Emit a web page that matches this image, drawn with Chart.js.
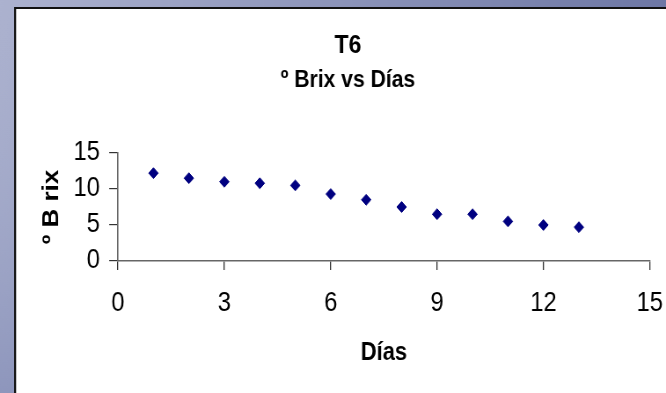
<!DOCTYPE html>
<html>
<head>
<meta charset="utf-8">
<script src="https://cdn.jsdelivr.net/npm/chart.js@4/dist/chart.umd.min.js"></script>
<style>
html,body{margin:0;padding:0;background:#fff;overflow:hidden;}
#wrap{position:relative;width:666px;height:393px;}
#c{display:block;}
</style>
</head>
<body>
<div id="wrap"><canvas id="c" width="757" height="393" style="width:666px;height:393px;"></canvas></div>
<script>
// Data
const dias = [1, 2, 3, 4, 5, 6, 7, 8, 9, 10, 11, 12, 13];
const brix = [12.2, 11.5, 11.0, 10.8, 10.5, 9.3, 8.5, 7.5, 6.5, 6.5, 5.5, 5.0, 4.7];
const xTicks = [0, 3, 6, 9, 12, 15];
const yTicks = [0, 5, 10, 15];
const chartTitle = 'T6';
const chartSubtitle = 'º Brix vs Días';
const xTitle = 'Días';
const yTitle = 'º B rix';

const FONT = "'Liberation Sans', Arial, Helvetica, sans-serif";

const points = dias.map((d, i) => ({x: d, y: brix[i]}));

// The canvas is drawn 757px wide and shown 666px wide (narrow, tall lettering like the original)
const panelPlugin = {
  id: 'panel',
  beforeDraw(chart) {
    const ctx = chart.ctx;
    const W = chart.width, H = chart.height;
    ctx.save();
    const g = ctx.createLinearGradient(0, 0, W, 180);
    g.addColorStop(0, '#acb2cf');
    g.addColorStop(1, '#6a74a3');
    ctx.fillStyle = g;
    ctx.fillRect(0, 0, W, H);
    const g2 = ctx.createLinearGradient(0, 0, 0, H);
    g2.addColorStop(0, 'rgba(172,178,207,0)');
    g2.addColorStop(1, 'rgba(120,130,175,0.5)');
    ctx.fillStyle = g2;
    ctx.fillRect(0, 0, 17, H);
    ctx.fillStyle = '#ffffff';
    ctx.fillRect(17, 8, W - 17, H - 8);
    ctx.fillStyle = '#111111';
    ctx.fillRect(16, 7, W - 16, 2);
    ctx.fillRect(16, 7, 2.3, H - 7);
    ctx.restore();
  }
};

new Chart(document.getElementById('c'), {
  type: 'scatter',
  data: {
    datasets: [{
      data: points,
      pointStyle: 'rectRot',
      pointRadius: 5.4,
      pointHoverRadius: 5.4,
      backgroundColor: '#000080',
      borderColor: '#000080',
      borderWidth: 1,
      showLine: false
    }]
  },
  plugins: [panelPlugin],
  options: {
    responsive: false,
    animation: false,
    events: [],
    devicePixelRatio: 1,
    layout: {padding: {left: 34, right: 0, top: 8, bottom: 0}},
    plugins: {
      legend: {display: false},
      tooltip: {enabled: false},
      title: {
        display: true,
        text: chartTitle,
        color: '#000',
        font: {family: FONT, size: 26, weight: 'bold', lineHeight: 1.2},
        padding: {top: 22.4, bottom: 0}
      },
      subtitle: {
        display: true,
        text: chartSubtitle,
        color: '#000',
        font: {family: FONT, size: 24, weight: 'bold', lineHeight: 1.2},
        padding: {top: 4, bottom: 58.6}
      }
    },
    scales: {
      x: {
        type: 'linear',
        min: 0, max: 15,
        afterBuildTicks(s) { s.ticks = xTicks.map(v => ({value: v})); },
        afterFit(s) { s.height = 132; s.paddingRight = 18.4; s.paddingLeft = 0; },
        border: {display: true, color: '#666', width: 1.6},
        grid: {display: true, drawOnChartArea: false, drawTicks: true, tickLength: 9, color: '#333', lineWidth: 1.3},
        ticks: {color: '#000', font: {family: FONT, size: 27}, padding: 17, maxRotation: 0},
        title: {display: true, text: xTitle, color: '#000', font: {family: FONT, size: 25, weight: 'bold', lineHeight: 1.2}, padding: {top: 0, bottom: 24.5}}
      },
      y: {
        type: 'linear',
        min: 0, max: 15,
        afterBuildTicks(s) { s.ticks = yTicks.map(v => ({value: v})); },
        afterFit(s) { s.width = 100.1; },
        border: {display: true, color: '#666', width: 1.6},
        grid: {display: true, drawOnChartArea: false, drawTicks: true, tickLength: 10, color: '#333', lineWidth: 1.2},
        ticks: {color: '#000', font: {family: FONT, size: 27}, padding: 10.5},
        title: {display: true, text: yTitle, color: '#000', font: {family: FONT, size: 26, weight: 'bold', lineHeight: 1.2}, padding: {top: 9.5, bottom: 0}}
      }
    }
  }
});
</script>
</body>
</html>
